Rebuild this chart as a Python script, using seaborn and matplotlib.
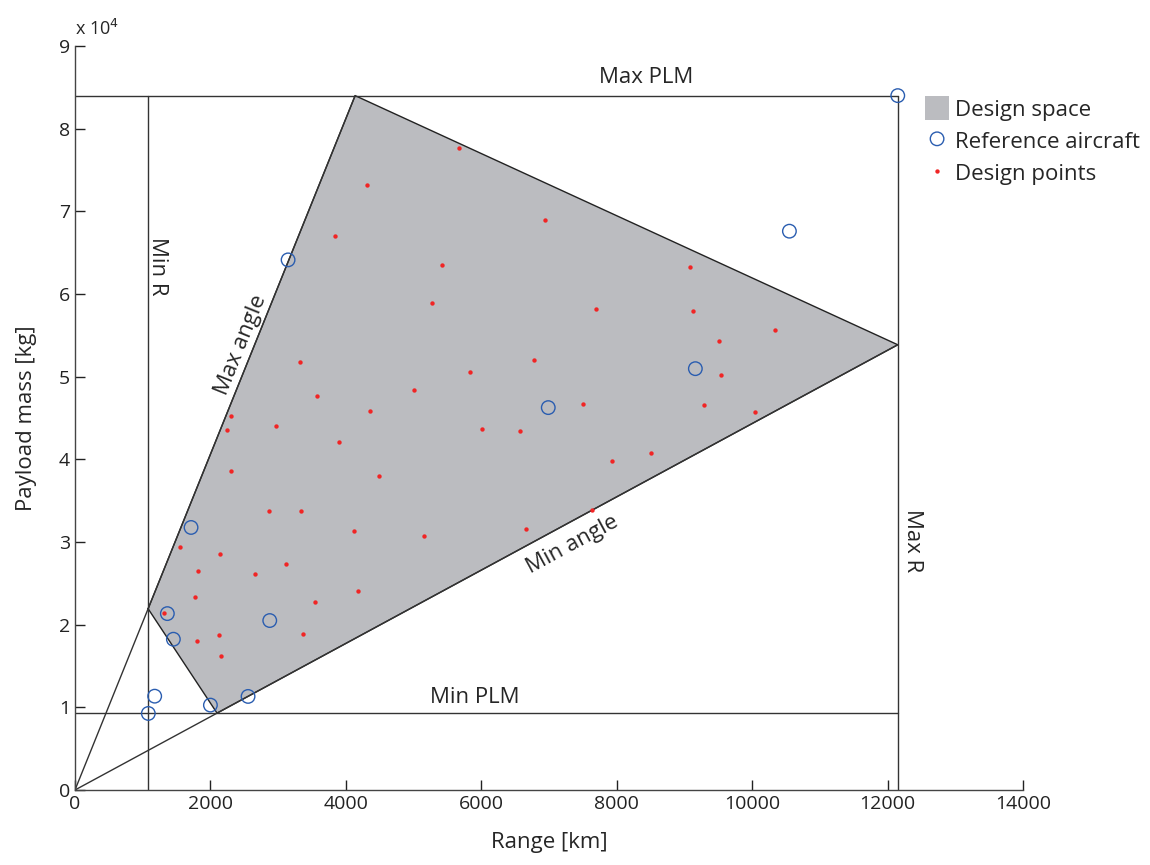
import numpy as np
import pandas as pd
import seaborn as sns
import matplotlib.pyplot as plt

# limits of the design space
max_plm = 84000
min_plm = 9300
min_r = 1080
max_r = 12150
max_angle_pt = (4137, 84000)
min_angle_pt = (12150, 53860)

# reference aircraft
ref_range = [12150, 10550, 9161, 6989, 3147, 1714, 1364, 1453, 2876, 1177, 1083, 2000, 2556]
ref_plm = [84000, 67600, 50970, 46260, 64130, 31760, 21340, 18240, 20500, 11350, 9260, 10270, 11320]

# design points
dp_range = [5669, 4319, 6940, 3842, 5423, 5275, 3325, 6782, 5836, 4999,
            3581, 4354, 2300, 2965, 2251, 6013, 6575, 3901, 2305, 4487,
            2871, 3335, 4127, 5152, 6664, 1547, 2138, 1822, 3123, 2664,
            1768, 4177, 3546, 1310, 2128, 1807, 3369, 2157, 9077, 7698,
            9121, 10343, 9505, 9545, 7506, 9284, 10042, 8510, 7935, 7634]
dp_plm = [77660, 73220, 69000, 67030, 63530, 58940, 51770, 52050, 50520, 48350,
          47710, 45890, 45250, 44080, 43600, 43680, 43480, 42150, 38570, 38040,
          33780, 33780, 31280, 30760, 31520, 29350, 28500, 26530, 27380, 26120,
          23390, 24120, 22740, 21460, 18760, 18080, 18920, 16220, 63320, 58130,
          57930, 55590, 54350, 50240, 46660, 46620, 45690, 40820, 39820, 33850]

sns.set_style("ticks")
plt.rcParams['font.family'] = ['Open Sans', 'DejaVu Sans']

fig = plt.figure(figsize=(11.5, 8.65), dpi=100)
ax = fig.add_axes([0.0652, 0.0867, 0.8244, 0.8601])
ax.set_xlim(0, 14000)
ax.set_ylim(0, 90000)

# polygon corners from the limit lines
s_max = max_angle_pt[1] / max_angle_pt[0]
s_min = min_angle_pt[1] / min_angle_pt[0]
poly_x = [min_r, max_angle_pt[0], min_angle_pt[0], min_plm / s_min]
poly_y = [min_r * s_max, max_angle_pt[1], min_angle_pt[1], min_plm]
ax.fill(poly_x, poly_y, facecolor='#bbbcc0', edgecolor='none',
        label='Design space', zorder=1)
ax.plot(poly_x + poly_x[:1], poly_y + poly_y[:1], color='#222222', lw=1.0, zorder=2)

lc = '#333333'
ax.plot([0, max_r], [max_plm, max_plm], color=lc, lw=1, zorder=2)
ax.plot([0, max_r], [min_plm, min_plm], color=lc, lw=1, zorder=2)
ax.plot([min_r, min_r], [0, max_plm], color=lc, lw=1, zorder=2)
ax.plot([max_r, max_r], [0, max_plm], color=lc, lw=1, zorder=2)
ax.plot([0, max_angle_pt[0]], [0, max_angle_pt[1]], color=lc, lw=1, zorder=2)
ax.plot([0, min_angle_pt[0]], [0, min_angle_pt[1]], color=lc, lw=1, zorder=2)

ref = pd.DataFrame({'range': ref_range, 'plm': ref_plm})
dp = pd.DataFrame({'range': dp_range, 'plm': dp_plm})
sns.scatterplot(data=ref, x='range', y='plm', ax=ax, marker='o', s=95,
                facecolor='none', edgecolor='#2a5db0', linewidth=1.0,
                label='Reference aircraft', zorder=4)
sns.scatterplot(data=dp, x='range', y='plm', ax=ax, marker='o', s=10,
                color='#f02525', linewidth=0, label='Design points', zorder=3)

fs = 16
ax.text(8430, 86200, 'Max PLM', ha='center', va='center', fontsize=fs)
ax.text(5900, 11240, 'Min PLM', ha='center', va='center', fontsize=fs)
ax.text(1225, 63400, 'Min R', ha='center', va='center', rotation=-90, fontsize=fs)
ax.text(12370, 30200, 'Max R', ha='center', va='center', rotation=-90, fontsize=fs)


def screen_angle(p1, p2):
    a = ax.transData.transform(p1)
    b = ax.transData.transform(p2)
    return np.degrees(np.arctan2(b[1] - a[1], b[0] - a[0]))


ax.text(2450, 53780, 'Max angle', ha='center', va='center', fontsize=fs,
        rotation=screen_angle((0, 0), max_angle_pt), rotation_mode='anchor')
ax.text(7350, 29700, 'Min angle', ha='center', va='center', fontsize=fs,
        rotation=screen_angle((0, 0), min_angle_pt), rotation_mode='anchor')

ax.set_xticks(np.arange(0, 14001, 2000))
ax.set_yticks(np.arange(0, 90001, 10000))
ax.set_yticklabels([str(int(v / 10000)) for v in ax.get_yticks()])
ax.tick_params(direction='in', length=7, width=1, labelsize=14, colors='#222222')
for side in ['left', 'bottom']:
    ax.spines[side].set_color('#444444')
    ax.spines[side].set_linewidth(1)
sns.despine(ax=ax)
ax.text(0, 1.01, r'x 10$^{4}$', transform=ax.transAxes, fontsize=13,
        ha='left', va='bottom')

ax.set_xlabel('Range [km]', fontsize=fs, labelpad=14)
ax.set_ylabel('Payload mass [kg]', fontsize=fs, labelpad=16)

handles, labels = ax.get_legend_handles_labels()
ax.get_legend().remove()
fig.legend(handles, labels, loc='upper left', bbox_to_anchor=(0.8047, 0.889),
           frameon=False, fontsize=fs, handlelength=1.05, handleheight=1.3,
           handletextpad=0.3, labelspacing=0.35, borderaxespad=0, borderpad=0)

fig.savefig('out.png', dpi=100)
